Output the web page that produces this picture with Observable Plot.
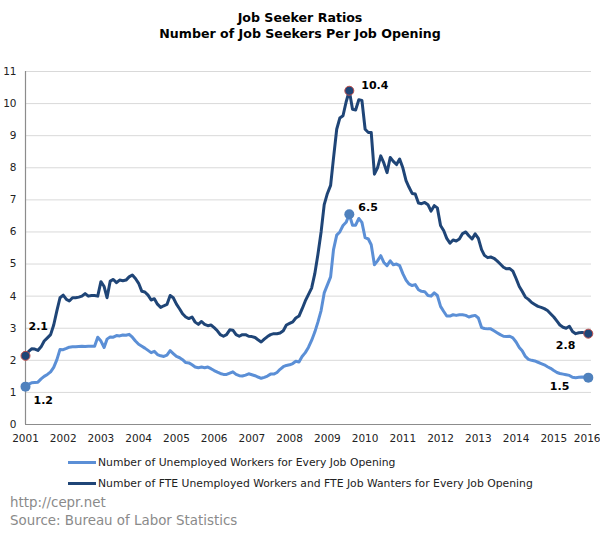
<!DOCTYPE html>
<html>
<head>
<meta charset="utf-8">
<script src="https://cdn.jsdelivr.net/npm/d3@7"></script>
<script src="https://cdn.jsdelivr.net/npm/@observablehq/plot@0.6"></script>
<style>
  html, body { margin: 0; padding: 0; background: #fff; }
  #wrap { position: relative; width: 600px; height: 538px; overflow: hidden; font-family: "DejaVu Sans", Verdana, sans-serif; }
  #title { position: absolute; left: 0; top: 10px; width: 600px; text-align: center; font-weight: bold; font-size: 12.6px; line-height: 16px; color: #000; }
  #chart { position: absolute; left: 0; top: 46px; }
  .leg { position: absolute; left: 68px; font-size: 10.8px; color: #222; height: 14px; line-height: 14px; white-space: nowrap; }
  .leg span.sw { display: inline-block; width: 28px; height: 3px; vertical-align: middle; margin-right: 2px; position: relative; top: -1px; }
  .foot { position: absolute; left: 10px; font-size: 13.4px; color: #8a8a8a; white-space: nowrap; line-height: 15px; }
</style>
</head>
<body>
<div id="wrap">
  <div id="title"></div>
  <div id="chart"></div>
  <div id="leg1" class="leg"></div>
  <div id="leg2" class="leg"></div>
  <div id="foot1" class="foot"></div>
  <div id="foot2" class="foot"></div>
</div>
<script>
// ---- Data (monthly, Jan 2001 - Dec 2015) ----
const titleLines = ["Job Seeker Ratios", "Number of Job Seekers Per Job Opening"];
const seriesNames = [
  "Number of Unemployed Workers for Every Job Opening",
  "Number of FTE Unemployed Workers and FTE Job Wanters for Every Job Opening"
];
const seriesColors = ["#5b8fd6", "#1f4577"];
const footLines = ["http://cepr.net", "Source: Bureau of Labor Statistics"];
const startYear = 2001;
const yearTicks = [2001,2002,2003,2004,2005,2006,2007,2008,2009,2010,2011,2012,2013,2014,2015,2016];
const valueTicks = [0,1,2,3,4,5,6,7,8,9,10,11];

const unemployed = [
  1.18,1.26,1.30,1.31,1.32,1.42,1.50,1.56,1.64,1.78,2.02,2.34,
  2.33,2.37,2.41,2.42,2.42,2.43,2.44,2.43,2.44,2.44,2.44,2.72,
  2.60,2.40,2.66,2.73,2.72,2.77,2.76,2.79,2.78,2.81,2.72,2.60,
  2.50,2.44,2.38,2.31,2.24,2.28,2.18,2.14,2.12,2.16,2.30,2.21,
  2.12,2.08,2.02,1.93,1.92,1.86,1.79,1.77,1.79,1.77,1.79,1.74,
  1.68,1.63,1.59,1.56,1.56,1.60,1.64,1.56,1.52,1.51,1.54,1.58,
  1.55,1.52,1.48,1.44,1.47,1.51,1.57,1.57,1.62,1.72,1.80,1.84,
  1.86,1.90,1.97,1.95,2.12,2.24,2.40,2.62,2.88,3.19,3.55,4.10,
  4.35,4.60,5.45,5.90,6.00,6.20,6.30,6.55,6.21,6.21,6.42,6.30,
  5.82,5.78,5.60,4.98,5.10,5.26,5.05,4.95,5.10,4.98,5.00,4.95,
  4.70,4.50,4.38,4.33,4.36,4.20,4.15,4.14,4.02,4.00,4.10,4.02,
  3.68,3.52,3.38,3.38,3.42,3.40,3.42,3.42,3.40,3.35,3.38,3.40,
  3.32,3.02,2.99,2.98,2.98,2.92,2.86,2.80,2.75,2.74,2.75,2.70,
  2.57,2.40,2.30,2.12,2.03,2.00,1.98,1.94,1.90,1.86,1.80,1.75,
  1.68,1.62,1.59,1.57,1.55,1.53,1.47,1.46,1.47,1.48,1.47,1.46
];
const fteSeekers = [
  2.14,2.28,2.36,2.35,2.31,2.42,2.60,2.70,2.80,3.10,3.55,3.95,
  4.03,3.90,3.85,3.95,3.95,3.97,4.00,4.08,4.00,4.02,4.02,4.00,
  4.45,4.30,3.95,4.47,4.52,4.42,4.50,4.48,4.50,4.60,4.66,4.55,
  4.40,4.15,4.13,4.03,3.88,3.92,3.75,3.65,3.70,3.74,4.02,3.95,
  3.75,3.60,3.45,3.35,3.30,3.35,3.19,3.12,3.21,3.12,3.08,3.10,
  3.02,2.92,2.80,2.75,2.80,2.95,2.94,2.80,2.75,2.80,2.80,2.75,
  2.74,2.71,2.64,2.57,2.66,2.74,2.80,2.83,2.83,2.85,2.92,3.10,
  3.15,3.20,3.32,3.38,3.60,3.85,4.05,4.25,4.70,5.30,6.00,6.85,
  7.20,7.45,8.30,9.20,9.55,9.62,10.05,10.40,9.82,9.80,10.12,10.10,
  9.20,9.10,9.10,7.80,8.00,8.37,8.15,7.85,8.32,8.20,8.10,8.27,
  8.00,7.60,7.40,7.20,7.18,6.90,6.88,6.92,6.85,6.65,6.82,6.75,
  6.20,6.04,5.80,5.65,5.75,5.72,5.78,5.95,6.00,5.88,5.78,5.94,
  5.80,5.45,5.27,5.20,5.22,5.18,5.10,5.00,4.90,4.85,4.86,4.78,
  4.55,4.30,4.15,3.97,3.90,3.80,3.74,3.68,3.65,3.61,3.55,3.45,
  3.35,3.22,3.10,3.03,3.00,3.06,2.90,2.83,2.86,2.87,2.85,2.83
];
// annotated points (month index) and their labels
const annotIndex = [0, 103, 179];
const unempLabels = ["1.2", "6.5", "1.5"];
const fteLabels = ["2.1", "10.4", "2.8"];

// ---- Build ----
const monthDate = i => new Date(Date.UTC(startYear, i, 1));
const rowsU = unemployed.map((v, i) => ({date: monthDate(i), v}));
const rowsF = fteSeekers.map((v, i) => ({date: monthDate(i), v}));
const annU = annotIndex.map((k, j) => ({date: monthDate(k), v: unemployed[k], label: unempLabels[j]}));
const annF = annotIndex.map((k, j) => ({date: monthDate(k), v: fteSeekers[k], label: fteLabels[j]}));
const yearDates = yearTicks.map(y => new Date(Date.UTC(y, 0, 1)));
const lastYear = yearDates[yearDates.length - 1];

document.getElementById("title").innerHTML = titleLines.join("<br>");

const lbl = {fontFamily: "DejaVu Sans, sans-serif", fontWeight: "bold", fontSize: 11, fill: "#000"};
const tickFont = {fontFamily: "DejaVu Sans, sans-serif", fontSize: 10.5, fill: "#222"};

const chart = Plot.plot({
  width: 600,
  height: 404,
  marginLeft: 25,
  marginRight: 9,
  marginTop: 25,
  marginBottom: 26,
  style: {fontFamily: "DejaVu Sans, sans-serif", fontSize: "10.5px", color: "#222", background: "#fff"},
  x: {type: "utc", domain: [yearDates[0], lastYear]},
  y: {domain: [0, 11]},
  marks: [
    Plot.gridY(valueTicks.slice(1), {stroke: "#d9d9d9", strokeOpacity: 1}),
    Plot.axisY(valueTicks, {tickSize: 0, tickPadding: 9, label: null, tickFormat: d => String(d)}),
    Plot.axisX(yearDates.slice(0, -1), {tickSize: 0, tickPadding: 10, label: null, tickFormat: d => String(d.getUTCFullYear())}),
    Plot.text([lastYear], {x: d => d, frameAnchor: "bottom", text: d => String(d.getUTCFullYear()), textAnchor: "end", dx: 9, dy: 10, lineAnchor: "top", ...tickFont}),
    Plot.ruleY([0], {stroke: "#8c8c8c", strokeWidth: 1.2}),
    Plot.ruleX([yearDates[0]], {stroke: "#8c8c8c", strokeWidth: 1.2}),
    Plot.line(rowsU, {x: "date", y: "v", stroke: seriesColors[0], strokeWidth: 3, strokeLinejoin: "round"}),
    Plot.line(rowsF, {x: "date", y: "v", stroke: seriesColors[1], strokeWidth: 3, strokeLinejoin: "round"}),
    Plot.dot(annU, {x: "date", y: "v", r: 5, fill: "#4f81bd", stroke: "none"}),
    Plot.dot(annF, {x: "date", y: "v", r: 4.5, fill: seriesColors[1], stroke: "#c0504d", strokeWidth: 1}),
    // labels
    Plot.text([annF[0]], {x: "date", y: "v", text: "label", textAnchor: "start", dx: 3, dy: -29, ...lbl}),
    Plot.text([annU[0]], {x: "date", y: "v", text: "label", textAnchor: "start", dx: 8, dy: 14, ...lbl}),
    Plot.text([annF[1]], {x: "date", y: "v", text: "label", textAnchor: "start", dx: 12, dy: -5, ...lbl}),
    Plot.text([annU[1]], {x: "date", y: "v", text: "label", textAnchor: "start", dx: 9, dy: -7, ...lbl}),
    Plot.text([annF[2]], {x: "date", y: "v", text: "label", textAnchor: "end", dx: -13, dy: 12, ...lbl}),
    Plot.text([annU[2]], {x: "date", y: "v", text: "label", textAnchor: "end", dx: -19, dy: 9, ...lbl})
  ]
});
document.getElementById("chart").appendChild(chart);

const l1 = document.getElementById("leg1");
l1.style.top = (463 - 7) + "px";
l1.innerHTML = `<span class="sw" style="background:${seriesColors[0]}"></span>${seriesNames[0]}`;
const l2 = document.getElementById("leg2");
l2.style.top = (484 - 7) + "px";
l2.innerHTML = `<span class="sw" style="background:${seriesColors[1]}"></span>${seriesNames[1]}`;
const f1 = document.getElementById("foot1");
f1.style.top = (503 - 8) + "px";
f1.textContent = footLines[0];
const f2 = document.getElementById("foot2");
f2.style.top = (521 - 8) + "px";
f2.textContent = footLines[1];
</script>
</body>
</html>
